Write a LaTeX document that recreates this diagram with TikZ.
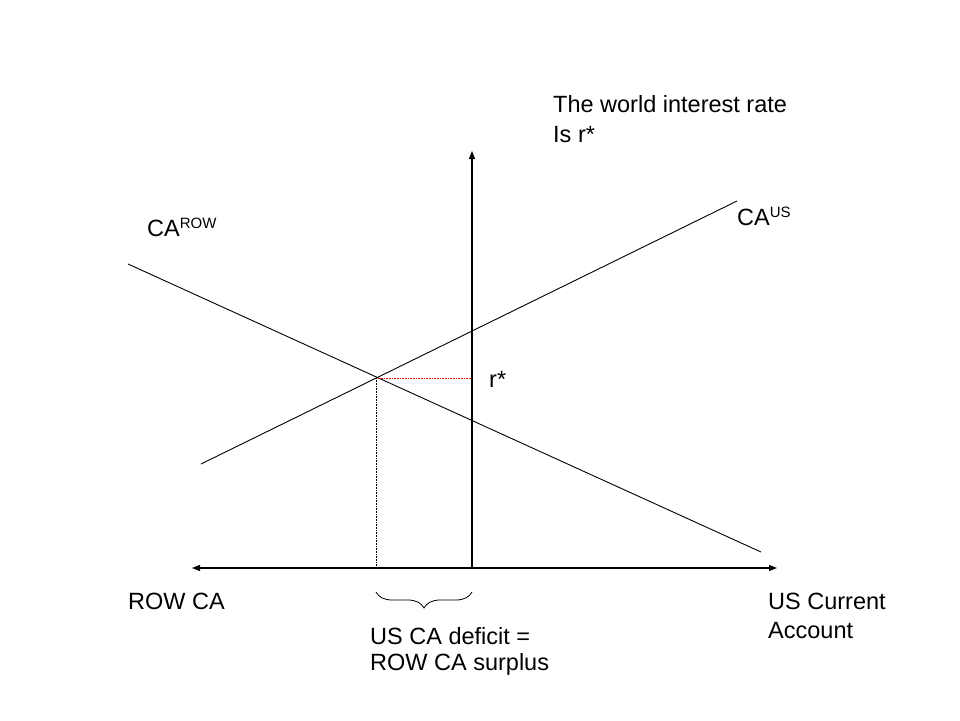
\documentclass[tikz,border=0pt]{standalone}
\usepackage{fontspec}
\setmainfont{Liberation Sans}
\usetikzlibrary{arrows.meta,decorations.pathreplacing}
\newcommand{\supx}[1]{\raisebox{8pt}{\fontsize{15}{15}\selectfont #1}}
\begin{document}
\begin{tikzpicture}[x=1pt,y=-1pt,
  lbl/.style={anchor=base west,inner sep=0pt,font=\fontsize{23.5}{29}\selectfont,align=left},
  axis/.style={line width=1.2pt,-{Triangle[length=8pt,width=6pt]}},
  curve/.style={line width=0.9pt},
  guide/.style={line width=0.6pt,densely dotted}]
\useasboundingbox (0,0) rectangle (960,720);
\fill[white] (0,0) rectangle (960,720);
% coordinates
\coordinate (O) at (472,568);
\coordinate (Xr) at (777,568);
\coordinate (Xl) at (192,568);
\coordinate (Yt) at (472,151);
\coordinate (US1) at (201,464);
\coordinate (US2) at (737,201);
\coordinate (ROW1) at (128,264);
\coordinate (ROW2) at (761,552);
\coordinate (E) at (376,378);
\coordinate (Ey) at (472,378);
\coordinate (Ex) at (376,568);
\coordinate (B1) at (376,592);
\coordinate (B2) at (472,592);
% axes
\draw[axis] (O) -- (Xr);
\draw[axis] (O) -- (Xl);
\draw[axis] (O) -- (Yt);
% curves
\draw[curve] (US1) -- (US2);
\draw[curve] (ROW1) -- (ROW2);
% guides
\draw[guide,red!85!black] (E) -- (Ey);
\draw[guide] (E) -- (Ex);
% brace
\draw[line width=0.8pt,decorate,decoration={brace,mirror,amplitude=16pt}] (B1) -- (B2);
% labels (multi-line nodes: base = last line)
\node[lbl,font=\fontsize{23.5}{30}\selectfont] (title) at (553,142) {The world interest rate\\Is r*};
\node[lbl] (caus) at (737,225) {CA\supx{US}};
\node[lbl] (carow) at (147,236) {CA\supx{ROW}};
\node[lbl] (rstar) at (489,387) {r*};
\node[lbl] (rowca) at (128,609) {ROW CA};
\node[lbl,font=\fontsize{23.5}{29}\selectfont] (usca) at (768,638) {US Current\\Account};
\node[lbl,font=\fontsize{23.5}{26}\selectfont] (def) at (370,670) {US CA deficit =\\ROW CA surplus};
\end{tikzpicture}
\end{document}
